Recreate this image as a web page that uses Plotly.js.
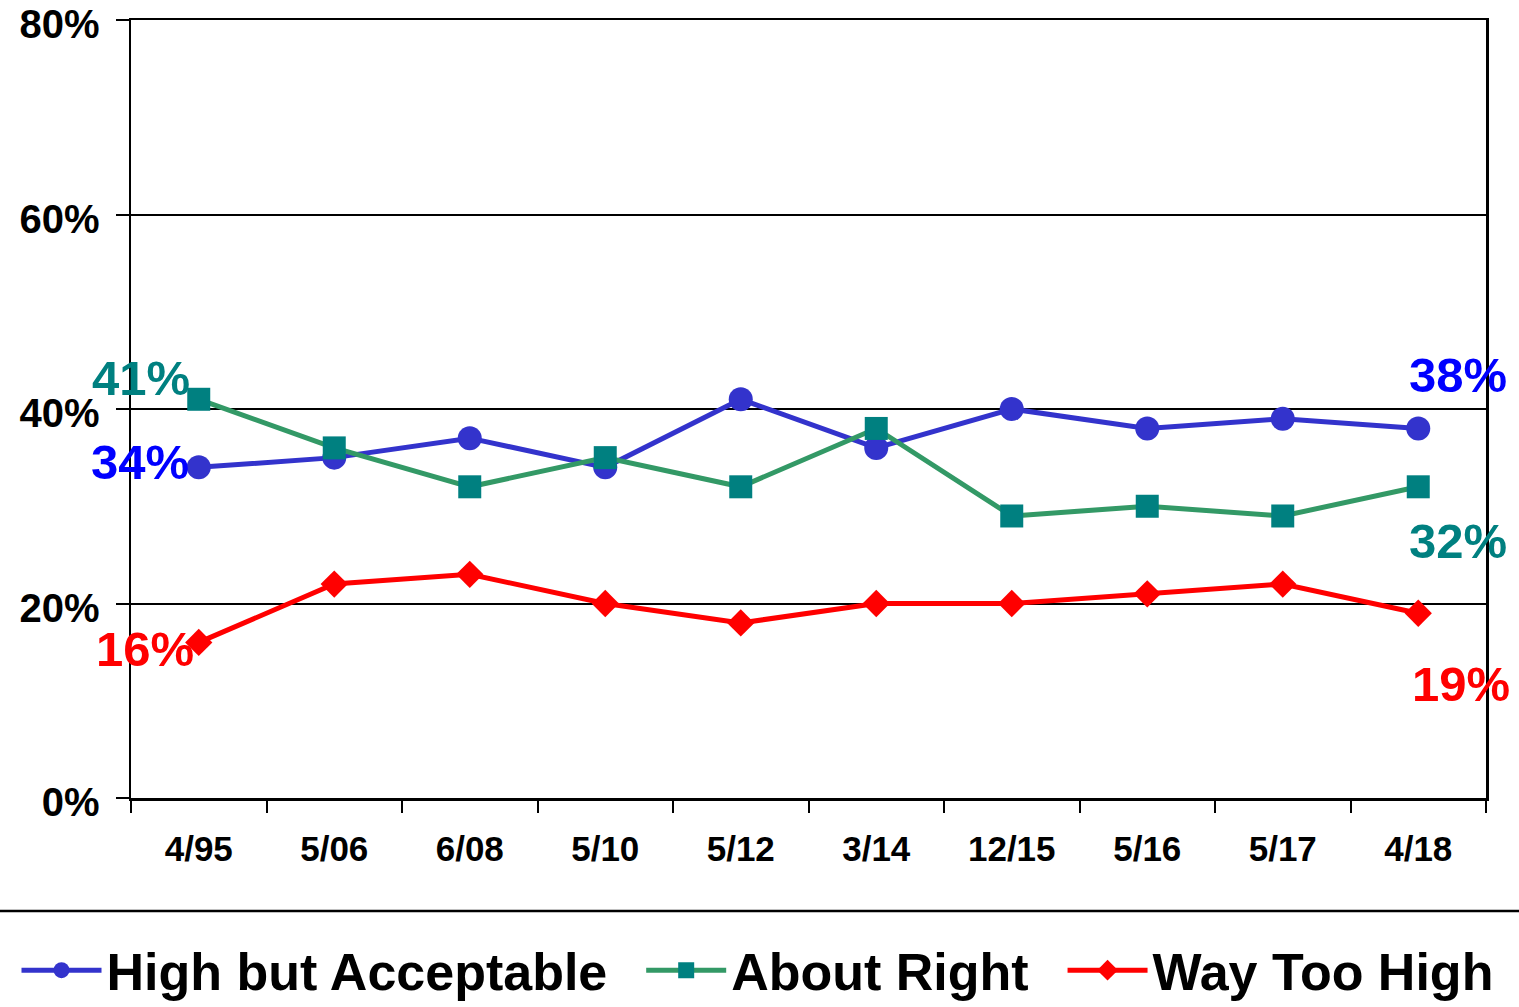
<!DOCTYPE html>
<html>
<head>
<meta charset="utf-8">
<script src="https://cdn.plot.ly/plotly-3.0.1.min.js"></script>
<style>html,body{margin:0;padding:0;background:#fff;}#chart{width:1519px;height:1007px;}</style>
</head>
<body>
<div id="chart"></div>
<script>
const categories = ['4/95','5/06','6/08','5/10','5/12','3/14','12/15','5/16','5/17','4/18'];
const highButAcceptable = [34, 35, 37, 34, 41, 36, 40, 38, 39, 38];
const aboutRight = [41, 36, 32, 35, 32, 38, 29, 30, 29, 32];
const wayTooHigh = [16, 22, 23, 20, 18, 20, 20, 21, 22, 19];
const seriesNames = ['High but Acceptable', 'About Right', 'Way Too High'];
const yTickVals = [0, 20, 40, 60, 80];

const FONT = 'Arial, "Liberation Sans", sans-serif';
const PAD = '\u00a0\u00a0';

const traces = [
  {x: categories, y: highButAcceptable, name: seriesNames[0] + PAD, type: 'scatter', mode: 'lines+markers',
   line: {color: '#3333CC', width: 5}, marker: {symbol: 'circle', size: 24, color: '#3333CC'}},
  {x: categories, y: aboutRight, name: seriesNames[1] + PAD, type: 'scatter', mode: 'lines+markers',
   line: {color: '#339966', width: 5}, marker: {symbol: 'square', size: 23, color: '#008080'}},
  {x: categories, y: wayTooHigh, name: seriesNames[2], type: 'scatter', mode: 'lines+markers',
   line: {color: '#FF0000', width: 5}, marker: {symbol: 'diamond', size: 21, color: '#FF0000'}}
];

const first = 0, last = categories.length - 1;
function lab(series, idx, color, xs, ys) {
  return {x: categories[idx], y: series[idx], xref: 'x', yref: 'y', text: series[idx] + '%',
    showarrow: false, xshift: xs, yshift: ys,
    font: {family: FONT, size: 49, color: color, weight: 'bold'}};
}

const layout = {
  width: 1519, height: 1007,
  margin: {l: 131, r: 33, t: 20, b: 209, autoexpand: false},
  paper_bgcolor: '#ffffff', plot_bgcolor: '#ffffff',
  font: {family: FONT, color: '#000'},
  showlegend: true,
  legend: {orientation: 'h', x: -0.0845, xanchor: 'left', y: -0.2215, yanchor: 'middle',
    font: {family: FONT, size: 52, color: '#000', weight: 'bold'}, itemwidth: 80, tracegroupgap: 0},
  xaxis: {type: 'category', range: [-0.5, 9.5], showline: true, linecolor: '#000', linewidth: 2.5,
    mirror: true, ticks: 'outside', tickson: 'boundaries', ticklen: 12, tickwidth: 2, tickcolor: '#000',
    showgrid: false, zeroline: false,
    tickfont: {family: FONT, size: 35, color: '#000', weight: 'bold'}, ticklabelstandoff: 18},
  yaxis: {range: [0, 80], tickvals: yTickVals, ticktext: yTickVals.map(v => v + '%'),
    showline: true, linecolor: '#000', linewidth: 2.5, mirror: true,
    ticks: 'outside', ticklen: 13, tickwidth: 2, tickcolor: '#000',
    showgrid: true, gridcolor: '#000', gridwidth: 2, zeroline: false, ticklabeloverflow: 'allow',
    ticklabelshift: 4,
    tickfont: {family: FONT, size: 40, color: '#000', weight: 'bold'}, ticklabelstandoff: 8},
  shapes: [{type: 'line', xref: 'paper', yref: 'paper', x0: -0.1, x1: 1.03, y0: -0.1452, y1: -0.1452,
    line: {color: '#000', width: 2.5}}],
  annotations: [
    lab(aboutRight, first, '#008080', -58, 21),
    lab(highButAcceptable, first, '#0000FF', -59, 5),
    lab(wayTooHigh, first, '#FF0000', -54, -7),
    lab(highButAcceptable, last, '#0000FF', 40, 53),
    lab(aboutRight, last, '#008080', 40, -54),
    lab(wayTooHigh, last, '#FF0000', 43, -71)
  ]
};

Plotly.newPlot('chart', traces, layout, {displayModeBar: false, staticPlot: true});
</script>
</body>
</html>
